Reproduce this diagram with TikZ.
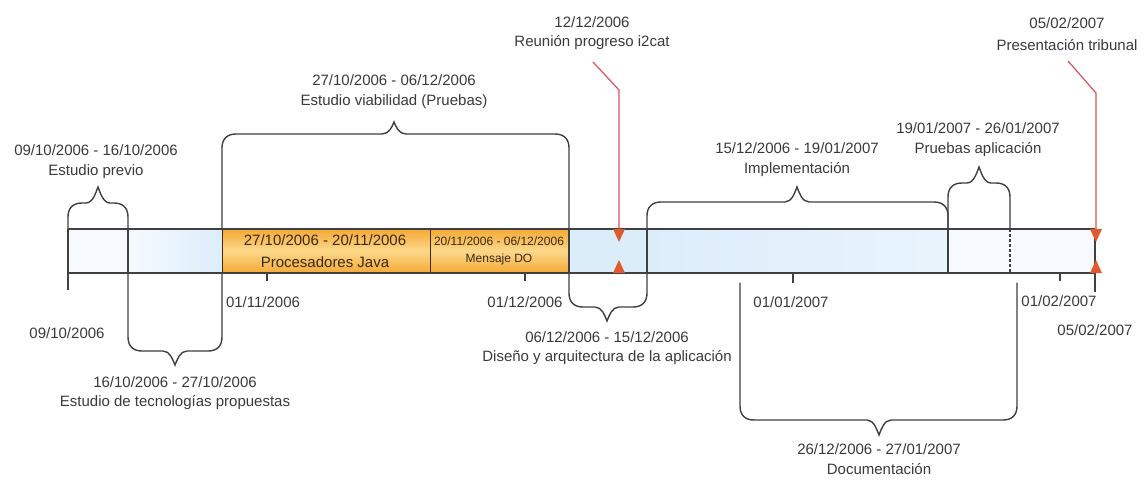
\documentclass[tikz,border=0pt]{standalone}
\usepackage{fontspec}
\setmainfont{Liberation Sans}
\definecolor{txt}{HTML}{3A3A3A}
\definecolor{ln}{HTML}{404040}
\definecolor{bluel}{HTML}{DCEDFA}
\definecolor{bluew}{HTML}{F6FAFE}
\definecolor{redl}{HTML}{E0505A}
\definecolor{redt}{HTML}{E05A2E}
\definecolor{orA}{HTML}{F5A935}
\definecolor{orB}{HTML}{FCD88A}
\definecolor{brn}{HTML}{3A2A10}
\newcommand\upbrace[6]{%
 \draw[brace] ({#1},{#4}) -- ({#1},{#5+14}) .. controls ({#1},{#5+5}) and ({#1+5},{#5}) .. ({#1+14},{#5})
  -- ({#3-12},{#5}) .. controls ({#3-5},{#5}) and ({#3-2},{#6+5}) .. ({#3},{#6})
  .. controls ({#3+2},{#6+5}) and ({#3+5},{#5}) .. ({#3+12},{#5})
  -- ({#2-14},{#5}) .. controls ({#2-5},{#5}) and ({#2},{#5+5}) .. ({#2},{#5+14}) -- ({#2},{#4});}
\newcommand\downbrace[6]{%
 \draw[brace] ({#1},{#4}) -- ({#1},{#5-14}) .. controls ({#1},{#5-5}) and ({#1+5},{#5}) .. ({#1+14},{#5})
  -- ({#3-12},{#5}) .. controls ({#3-5},{#5}) and ({#3-2},{#6-5}) .. ({#3},{#6})
  .. controls ({#3+2},{#6-5}) and ({#3+5},{#5}) .. ({#3+12},{#5})
  -- ({#2-14},{#5}) .. controls ({#2-5},{#5}) and ({#2},{#5-5}) .. ({#2},{#5-14}) -- ({#2},{#4});}
\begin{document}
\begin{tikzpicture}[x=1pt,y=-1pt,
  lbl/.style={font=\fontsize{15}{18}\selectfont, text=txt, inner sep=0pt},
  blbl/.style={font=\fontsize{15}{18}\selectfont, text=brn, inner sep=0pt},
  slbl/.style={font=\fontsize{12}{14}\selectfont, text=brn, inner sep=0pt},
  brace/.style={draw=ln, line width=1.4pt, line cap=round},
  edge/.style={draw=ln, line width=1.3pt},
  tick/.style={draw=ln, line width=1.1pt},
  redline/.style={draw=redl, line width=1.2pt},
  tri/.style={fill=redt},
  obox/.style={draw=brn, line width=1.2pt, inner sep=0pt, anchor=north west}]
\useasboundingbox (0,0) rectangle (1145,479);
\fill[white] (0,0) rectangle (1145,479);
% bar fills
\fill[bluew] (68,229) rectangle (128,273);
\shade[left color=bluew, right color=bluel] (128,229) rectangle (222,273);
\fill[bluel] (569,229) rectangle (647,273);
\shade[left color=bluel, right color=bluew!50!bluel] (647,229) rectangle (948,273);
\fill[bluew] (948,229) rectangle (1095,273);
% orange boxes
\shade[top color=orA, bottom color=orA, middle color=orB] (222,229) rectangle (569,273);
\node[obox, minimum width=208pt, minimum height=44pt] (java) at (222,229) {};
\node[obox, minimum width=139pt, minimum height=44pt] (mdo) at (430,229) {};
\node[blbl] (javaD) at (325,240) {27/10/2006 - 20/11/2006};
\node[blbl] (javaT) at (325,262) {Procesadores Java};
\node[slbl] (mdoD) at (499,241) {20/11/2006 - 06/12/2006};
\node[slbl] (mdoT) at (499,259) {Mensaje DO};
% bar outline
\draw[edge] (68,229) -- (1095,229);
\draw[edge] (68,273) -- (1095,273);
\draw[edge] (68,229) -- (68,290);
\draw[edge] (1095,229) -- (1095,292);
\draw[edge] (128,229) -- (128,273);
\draw[edge] (569,229) -- (569,273);
\draw[edge] (647,229) -- (647,273);
\draw[edge] (948,229) -- (948,273);
\draw[tick, dashed, dash pattern=on 3pt off 2pt] (1010,229) -- (1010,273);
% ticks
\draw[tick] (267,273) -- (267,281);
\draw[tick] (525,273) -- (525,281);
\draw[tick] (793,273) -- (793,283);
\draw[tick] (1060,273) -- (1060,281);
% braces
\upbrace{68}{128}{98}{229}{203}{187}
\upbrace{222}{569}{394}{229}{134}{122}
\upbrace{647}{948}{797}{229}{202}{187}
\upbrace{948}{1010}{979}{229}{183}{167}
\downbrace{128}{222}{175}{273}{351}{365}
\downbrace{569}{647}{607}{273}{307}{321}
\downbrace{740}{1017}{879}{283}{420}{435}
% date labels
\node[lbl] (d1) at (263,302) {01/11/2006};
\node[lbl] (d2) at (525,302) {01/12/2006};
\node[lbl] (d3) at (791,302) {01/01/2007};
\node[lbl] (d4) at (1059,301) {01/02/2007};
\node[lbl] (d5) at (67,333) {09/10/2006};
\node[lbl] (d6) at (1095,330) {05/02/2007};
% top labels
\node[lbl] (prevD) at (96,150) {09/10/2006 - 16/10/2006};
\node[lbl] (prevT) at (96,172) {Estudio previo};
\node[lbl] (viaD) at (394,80) {27/10/2006 - 06/12/2006};
\node[lbl] (viaT) at (394,102) {Estudio viabilidad (Pruebas)};
\node[lbl] (impD) at (797,148) {15/12/2006 - 19/01/2007};
\node[lbl] (impT) at (797,170) {Implementación};
\node[lbl] (pruD) at (978,128) {19/01/2007 - 26/01/2007};
\node[lbl] (pruT) at (978,150) {Pruebas aplicación};
\node[lbl] (reuD) at (592,22) {12/12/2006};
\node[lbl] (reuT) at (592,43) {Reunión progreso i2cat};
\node[lbl] (preD) at (1067,23) {05/02/2007};
\node[lbl] (preT) at (1067,45) {Presentación tribunal};
% bottom labels
\node[lbl] (tecD) at (175,382) {16/10/2006 - 27/10/2006};
\node[lbl] (tecT) at (175,403) {Estudio de tecnologías propuestas};
\node[lbl] (disD) at (607,337) {06/12/2006 - 15/12/2006};
\node[lbl] (disT) at (607,358) {Diseño y arquitectura de la aplicación};
\node[lbl] (docD) at (879,449) {26/12/2006 - 27/01/2007};
\node[lbl] (docT) at (879,469) {Documentación};
% milestones
\coordinate (r1a) at (593,62);
\coordinate (r1b) at (619,90);
\coordinate (r1c) at (619,232);
\draw[redline] (r1a) -- (r1b) -- (r1c);
\fill[tri] (613,229) -- (625,229) -- (619,242) -- cycle;
\fill[tri] (613,273) -- (625,273) -- (619,260) -- cycle;
\coordinate (r2a) at (1068,61);
\coordinate (r2b) at (1096,93);
\coordinate (r2c) at (1096,232);
\draw[redline] (r2a) -- (r2b) -- (r2c);
\fill[tri] (1090,229) -- (1102,229) -- (1096,242) -- cycle;
\fill[tri] (1090,273) -- (1102,273) -- (1096,260) -- cycle;
\end{tikzpicture}
\end{document}
